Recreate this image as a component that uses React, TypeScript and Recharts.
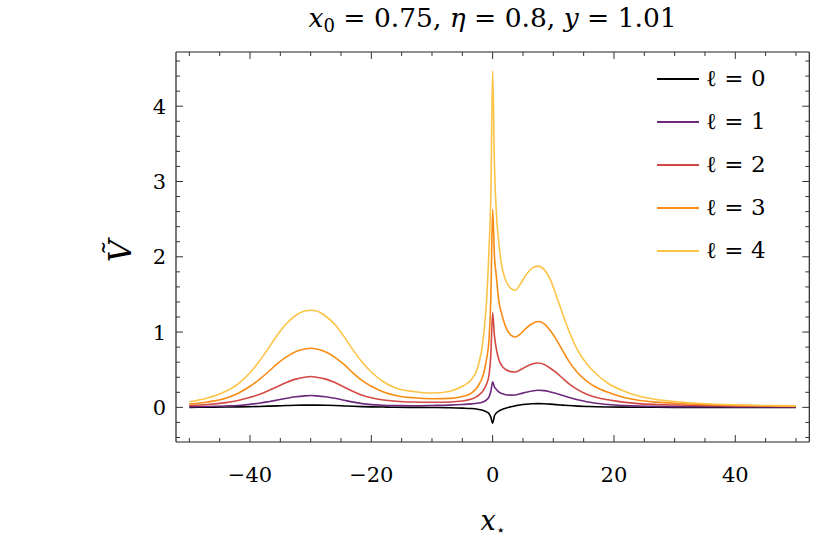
import React from "react";
import { LineChart, Line, XAxis, YAxis, Legend } from "recharts";

// sample positions along x_star
const xs = [
  -50, -47, -44, -42, -40, -38.5, -37, -35.5, -34, -32.5, -31, -30, -29, -27.5, -26, -24.5, -23, -21.5, -20, -18,
  -16, -13, -10, -7, -5, -3.5, -2.5, -1.5, -1, -0.6, -0.3, 0, 0.3, 0.6, 1, 1.5, 2, 3, 3.7, 4.5, 5.5, 6.5, 7.5,
  8.5, 9.5, 10.5, 11.5, 12.5, 14, 15.5, 17, 19, 21.5, 24, 27, 30, 35, 40, 45, 50,
];

const ell0 = [
  0, 0.002, 0.004, 0.006, 0.009, 0.012, 0.016, 0.02, 0.024, 0.028, 0.03, 0.03, 0.03, 0.028, 0.024, 0.019, 0.014,
  0.01, 0.007, 0.004, 0.002, 0, -0.002, -0.005, -0.01, -0.016, -0.025, -0.04, -0.06, -0.085, -0.13, -0.21, -0.11,
  -0.075, -0.05, -0.03, -0.015, 0.008, 0.02, 0.032, 0.042, 0.048, 0.05, 0.048, 0.043, 0.036, 0.03, 0.024, 0.017,
  0.012, 0.008, 0.005, 0.003, 0.002, 0.001, 0, 0, 0, 0, 0,
];

const ell1 = [
  0.008, 0.011, 0.018, 0.025, 0.04, 0.055, 0.075, 0.097, 0.12, 0.14, 0.153, 0.157, 0.153, 0.14, 0.12, 0.095, 0.07,
  0.05, 0.037, 0.028, 0.023, 0.022, 0.025, 0.03, 0.038, 0.046, 0.055, 0.075, 0.1, 0.14, 0.21, 0.34, 0.27, 0.24,
  0.205, 0.185, 0.172, 0.163, 0.165, 0.18, 0.2, 0.218, 0.227, 0.222, 0.205, 0.185, 0.16, 0.135, 0.1, 0.075, 0.055,
  0.038, 0.025, 0.017, 0.013, 0.01, 0.008, 0.007, 0.006, 0.005,
];

const ell2 = [
  0.026, 0.038, 0.063, 0.09, 0.133, 0.17, 0.22, 0.275, 0.33, 0.375, 0.4, 0.41, 0.4, 0.375, 0.33, 0.27, 0.21, 0.16,
  0.127, 0.098, 0.082, 0.071, 0.068, 0.072, 0.085, 0.11, 0.15, 0.23, 0.31, 0.43, 0.7, 1.256, 0.95, 0.78, 0.64,
  0.555, 0.51, 0.475, 0.47, 0.495, 0.54, 0.575, 0.59, 0.57, 0.52, 0.46, 0.39, 0.32, 0.235, 0.175, 0.135, 0.1, 0.07,
  0.05, 0.038, 0.031, 0.024, 0.019, 0.016, 0.013,
];

const ell3 = [
  0.044, 0.072, 0.122, 0.185, 0.28, 0.37, 0.47, 0.58, 0.67, 0.74, 0.775, 0.785, 0.775, 0.735, 0.665, 0.57, 0.455,
  0.355, 0.28, 0.205, 0.158, 0.127, 0.115, 0.12, 0.145, 0.19, 0.27, 0.45, 0.64, 0.9, 1.45, 2.63, 2.0, 1.75, 1.42,
  1.24, 1.1, 0.96, 0.935, 0.97, 1.05, 1.11, 1.14, 1.11, 1.02, 0.9, 0.76, 0.62, 0.46, 0.35, 0.27, 0.2, 0.135, 0.095,
  0.07, 0.054, 0.037, 0.027, 0.021, 0.017,
];

const ell4 = [
  0.075, 0.125, 0.215, 0.31, 0.46, 0.61, 0.78, 0.96, 1.11, 1.22, 1.28, 1.29, 1.28, 1.21, 1.1, 0.94, 0.76, 0.6,
  0.47, 0.34, 0.258, 0.21, 0.19, 0.215, 0.28, 0.37, 0.52, 0.95, 1.42, 2.1, 2.8, 4.47, 3.2, 2.6, 2.2, 1.88, 1.72,
  1.58, 1.555, 1.63, 1.76, 1.85, 1.876, 1.83, 1.7, 1.48, 1.25, 1.03, 0.76, 0.58, 0.45, 0.32, 0.22, 0.15, 0.105,
  0.078, 0.048, 0.033, 0.025, 0.02,
];

const seriesKeys = ["l0", "l1", "l2", "l3", "l4"];
const seriesLabels = ["ℓ = 0", "ℓ = 1", "ℓ = 2", "ℓ = 3", "ℓ = 4"];
const seriesColors = ["#000000", "#6d2a7c", "#d34a45", "#f98c15", "#fcc446"];

const xTicks = [-50, -45, -40, -35, -30, -25, -20, -15, -10, -5, 0, 5, 10, 15, 20, 25, 30, 35, 40, 45, 50];
const xMajor = [-40, -20, 0, 20, 40];
const yTicks = [
  -0.4, -0.2, 0, 0.2, 0.4, 0.6, 0.8, 1, 1.2, 1.4, 1.6, 1.8, 2, 2.2, 2.4, 2.6, 2.8, 3, 3.2, 3.4, 3.6, 3.8, 4,
  4.2, 4.4, 4.6,
];
const yMajor = [0, 1, 2, 3, 4];

const data = xs.map((x, i) => ({
  x,
  l0: ell0[i],
  l1: ell1[i],
  l2: ell2[i],
  l3: ell3[i],
  l4: ell4[i],
}));

const FONT = "'DejaVu Serif', serif";
const TICK = "#333";

const fmt = (v: number) => (v < 0 ? "\u2212" + Math.abs(v) : String(v));
const isMajor = (list: number[], v: number) => list.some((m) => Math.abs(m - v) < 1e-6);

const BottomTick = ({ x, y, payload }: any) => {
  const major = isMajor(xMajor, payload.value);
  return (
    <g>
      <line x1={x} x2={x} y1={y} y2={y - (major ? 7 : 4)} stroke={TICK} strokeWidth={1} />
      {major && (
        <text x={x} y={y + 40} textAnchor="middle" style={{ fontFamily: FONT, fontSize: 21 }} fill="#000">
          {fmt(payload.value)}
        </text>
      )}
    </g>
  );
};

const TopTick = ({ x, y, payload }: any) => {
  const major = isMajor(xMajor, payload.value);
  return <line x1={x} x2={x} y1={y} y2={y + (major ? 7 : 4)} stroke={TICK} strokeWidth={1} />;
};

const LeftTick = ({ x, y, payload }: any) => {
  const major = isMajor(yMajor, payload.value);
  return (
    <g>
      <line x1={x} x2={x + (major ? 7 : 4)} y1={y} y2={y} stroke={TICK} strokeWidth={1} />
      {major && (
        <text x={x - 10} y={y + 7.5} textAnchor="end" style={{ fontFamily: FONT, fontSize: 21 }} fill="#000">
          {fmt(payload.value)}
        </text>
      )}
    </g>
  );
};

const RightTick = ({ x, y, payload }: any) => {
  const major = isMajor(yMajor, payload.value);
  return <line x1={x} x2={x - (major ? 7 : 4)} y1={y} y2={y} stroke={TICK} strokeWidth={1} />;
};

const Title = () => (
  <text x={492.6} y={27} textAnchor="middle" style={{ fontFamily: FONT, fontSize: 26.5 }} fill="#000">
    <tspan fontStyle="italic">x</tspan>
    <tspan fontSize={18} dy={5}>0</tspan>
    <tspan dy={-5}>{" = 0.75, "}</tspan>
    <tspan fontStyle="italic">η</tspan>
    <tspan>{" = 0.8, "}</tspan>
    <tspan fontStyle="italic">y</tspan>
    <tspan>{" = 1.01"}</tspan>
  </text>
);

const XLabel = () => (
  <text x={492.6} y={530} textAnchor="middle" style={{ fontFamily: FONT, fontSize: 27 }} fill="#000">
    <tspan fontStyle="italic">x</tspan>
    <tspan fontSize={15} dy={5}>⋆</tspan>
  </text>
);

const YLabel = () => (
  <text
    transform="translate(131,251) rotate(-90)"
    textAnchor="middle"
    style={{ fontFamily: FONT, fontSize: 31, fontStyle: "italic" }}
    fill="#000"
  >
    {"V\u0303"}
  </text>
);

const renderLegend = () => (
  <div style={{ fontFamily: FONT }}>
    {seriesLabels.map((lab, i) => (
      <div key={lab} style={{ display: "flex", alignItems: "center", height: 43.1 }}>
        <svg width={42} height={4} style={{ display: "block" }}>
          <line x1={0} x2={42} y1={2} y2={2} stroke={seriesColors[i]} strokeWidth={2} />
        </svg>
        <span style={{ marginLeft: 7, fontSize: 23, color: "#000", whiteSpace: "nowrap" }}>{lab}</span>
      </div>
    ))}
  </div>
);

export default function App() {
  return (
    <div style={{ position: "absolute", left: 0, top: 0, width: 830, height: 548, background: "#fff" }}>
      <LineChart width={830} height={548} data={data} margin={{ top: 0, right: 0, bottom: 0, left: 0 }}>
        <XAxis
          dataKey="x"
          type="number"
          domain={[-52.2, 52.2]}
          ticks={xTicks}
          interval={0}
          allowDataOverflow
          height={106}
          tickSize={0}
          tickMargin={0}
          tickLine={false}
          tick={<BottomTick />}
          axisLine={{ stroke: "#222", strokeWidth: 1.2 }}
          label={{ content: () => <XLabel /> }}
        />
        <XAxis
          xAxisId="top"
          orientation="top"
          dataKey="x"
          type="number"
          domain={[-52.2, 52.2]}
          ticks={xTicks}
          interval={0}
          allowDataOverflow
          height={52}
          tickSize={0}
          tickMargin={0}
          tickLine={false}
          tick={<TopTick />}
          axisLine={{ stroke: "#222", strokeWidth: 1.2 }}
          label={{ content: () => <Title /> }}
        />
        <YAxis
          type="number"
          domain={[-0.46, 4.72]}
          ticks={yTicks}
          interval={0}
          allowDataOverflow
          width={176}
          tickSize={0}
          tickMargin={0}
          tickLine={false}
          tick={<LeftTick />}
          axisLine={{ stroke: "#222", strokeWidth: 1.2 }}
          label={{ content: () => <YLabel /> }}
        />
        <YAxis
          yAxisId="right"
          orientation="right"
          type="number"
          domain={[-0.46, 4.72]}
          ticks={yTicks}
          interval={0}
          allowDataOverflow
          width={20.7}
          tickSize={0}
          tickMargin={0}
          tickLine={false}
          tick={<RightTick />}
          axisLine={{ stroke: "#222", strokeWidth: 1.2 }}
        />
        <Legend
          layout="vertical"
          align="center"
          verticalAlign="middle"
          content={renderLegend}
          wrapperStyle={{ position: "absolute", left: 657, top: 57, width: 150, height: 220 }}
        />
        {seriesKeys.map((k, i) => (
          <Line
            key={k}
            dataKey={k}
            name={seriesLabels[i]}
            type="monotone"
            stroke={seriesColors[i]}
            strokeWidth={1.6}
            dot={false}
            isAnimationActive={false}
          />
        ))}
      </LineChart>
    </div>
  );
}
